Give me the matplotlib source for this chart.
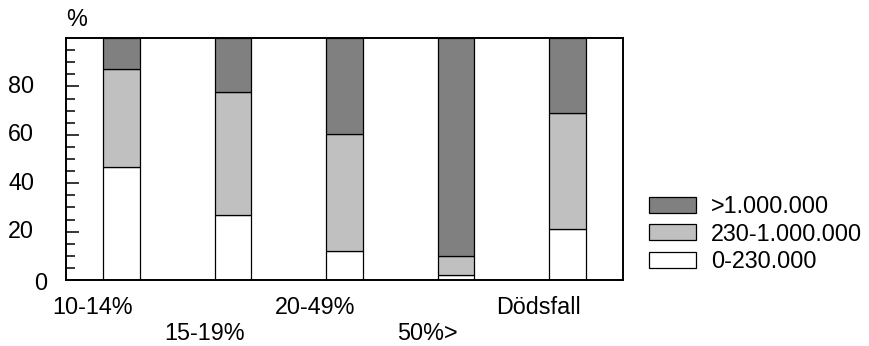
import matplotlib
matplotlib.use("Agg")
import matplotlib.pyplot as plt
import matplotlib.transforms as mtransforms
from matplotlib.patches import Patch
import numpy as np

plt.rcParams['font.family'] = ['Liberation Sans', 'DejaVu Sans']

categories = ["10-14%", "15-19%", "20-49%", "50%>", "Dödsfall"]
low = [46.5, 27.0, 12.0, 2.0, 21.0]          # 0-230.000
mid = [40.5, 50.5, 48.5, 8.0, 48.0]          # 230-1.000.000
high = [13.0, 22.5, 39.5, 90.0, 31.0]        # >1.000.000
series_labels = [">1.000.000", "230-1.000.000", "0-230.000"]
ytick_values = [0, 20, 40, 60, 80]
ytick_labels = ["0", "20", "40", "60", "80"]

fig = plt.figure(figsize=(8.7, 3.46), dpi=100)
ax = fig.add_axes([66/870, 1-280/346, (623-66)/870, (280-38)/346])

x = np.arange(len(categories))
w = 0.33
ec = "black"
lw = 0.9
low_a = np.array(low); mid_a = np.array(mid); high_a = np.array(high)
ax.bar(x, low_a, w, color="white", edgecolor=ec, linewidth=lw)
ax.bar(x, mid_a, w, bottom=low_a, color="#c0c0c0", edgecolor=ec, linewidth=lw)
ax.bar(x, high_a, w, bottom=low_a+mid_a, color="#808080", edgecolor=ec, linewidth=lw)

ax.set_xlim(-0.5, 4.5)
ax.set_ylim(0, 100)
for s in ax.spines.values():
    s.set_linewidth(1.4)

ax.set_xticks([])
ax.set_yticks(ytick_values)
ax.set_yticklabels([])
ax.set_yticks(np.arange(5, 100, 5), minor=True)
ax.tick_params(axis='y', which='major', direction='in', length=9.5, width=1.1)
ax.tick_params(axis='y', which='minor', direction='in', length=6.5, width=1.1)

fs = 16.8
# y tick labels
for v, lab in zip(ytick_values, ytick_labels):
    if v == 0:
        ax.text(-0.5 - 19/111.5, v, lab, ha='right', va='center', fontsize=fs,
                transform=mtransforms.offset_copy(ax.transData, fig=fig, x=0, y=-3, units='dots'))
    else:
        ax.text(-0.5 - 32/111.5, v, lab, ha='right', va='center', fontsize=fs)

# staggered x labels
trans = mtransforms.blended_transform_factory(ax.transData, fig.transFigure)
for i, lab in enumerate(categories):
    yy = 1 - 308/346 if i % 2 == 0 else 1 - 333/346
    ax.text(i - 0.26, yy, lab, ha='center', va='center', fontsize=fs, transform=trans)

fig.text(66/870, 1-19/346, "%", ha='left', va='center', fontsize=fs)

handles = [Patch(facecolor="#808080", edgecolor="black", linewidth=0.9),
           Patch(facecolor="#c0c0c0", edgecolor="black", linewidth=0.9),
           Patch(facecolor="white", edgecolor="black", linewidth=0.9)]
fig.legend(handles, series_labels, loc='center left', bbox_to_anchor=(649/870, 1-234/346),
           frameon=False, fontsize=fs, handlelength=2.0, handleheight=0.68,
           labelspacing=0.2, handletextpad=0.65, borderpad=0, borderaxespad=0)

fig.savefig("out.png", dpi=100)
